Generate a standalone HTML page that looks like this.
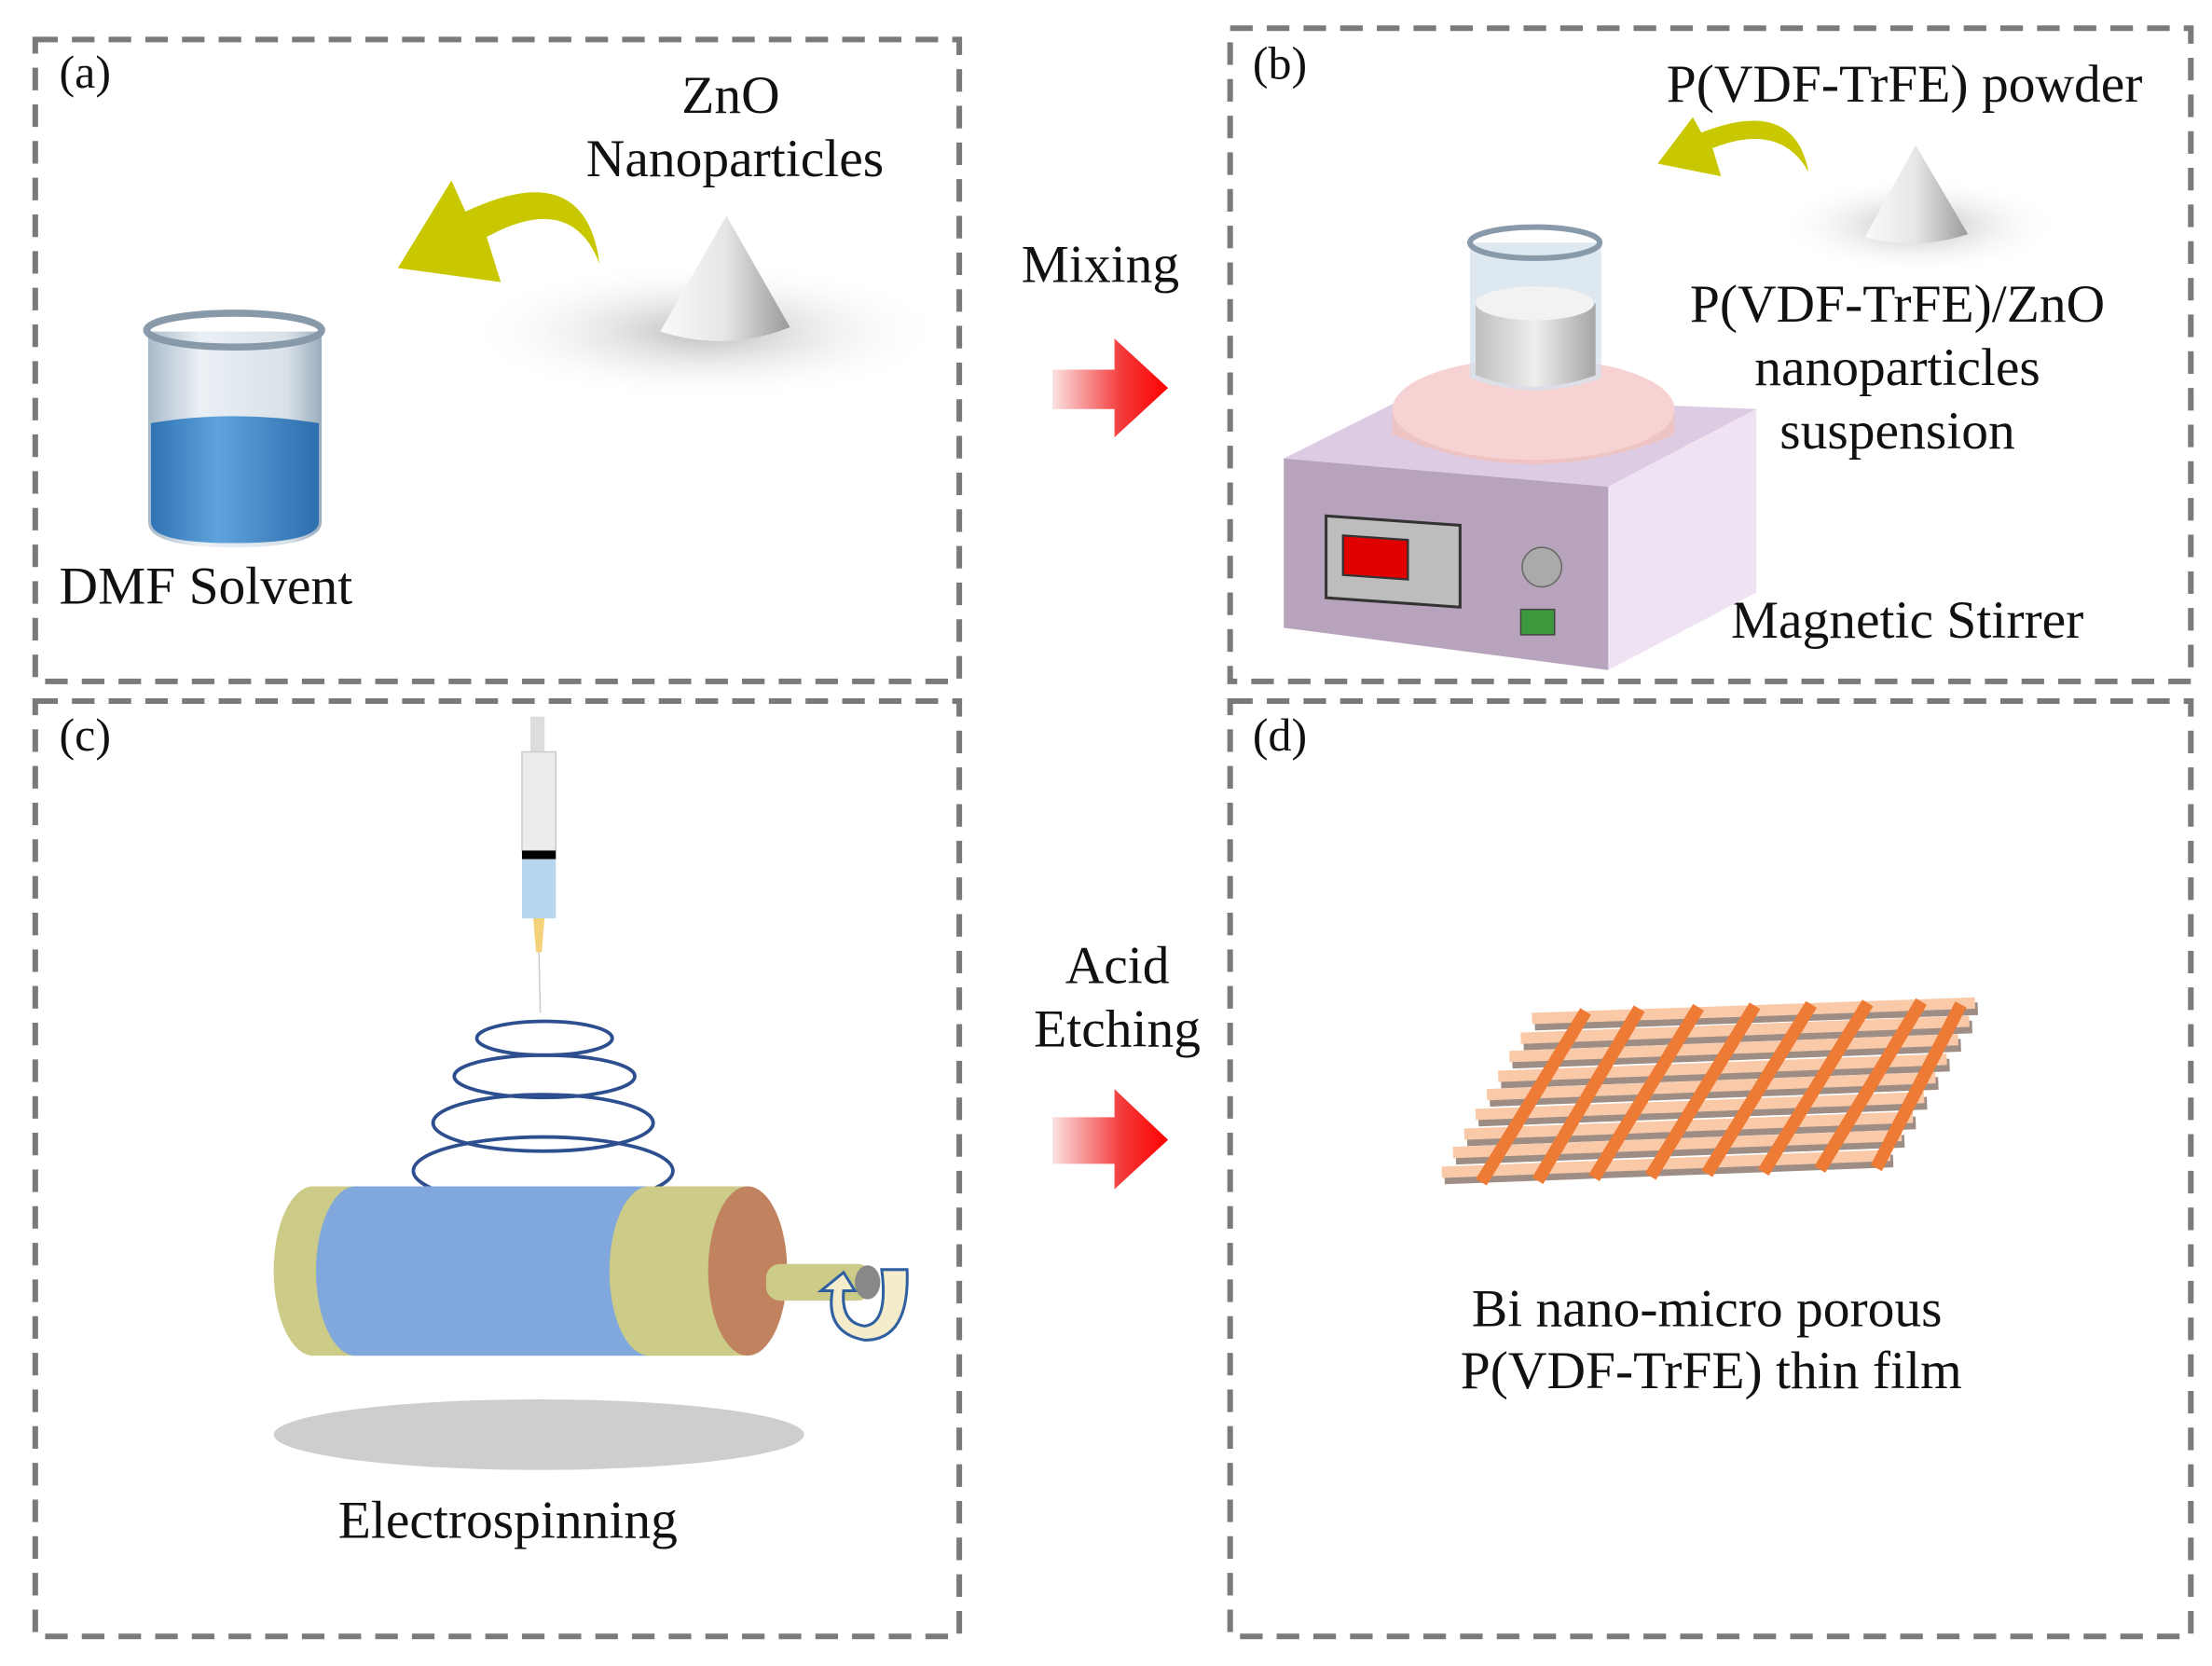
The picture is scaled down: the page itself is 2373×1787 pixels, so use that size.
<!DOCTYPE html>
<html><head><meta charset="utf-8"><style>html,body{margin:0;padding:0;background:#fff}svg{display:block}</style></head>
<body>
<svg width="2373" height="1787" viewBox="0 0 1568 1181" preserveAspectRatio="none" xmlns="http://www.w3.org/2000/svg" font-family="'Liberation Serif', serif" fill="#111">
<defs>
<linearGradient id="red" x1="0" x2="1" y1="0" y2="0"><stop offset="0" stop-color="#fbe2e2"/><stop offset="0.6" stop-color="#f43a3a"/><stop offset="1" stop-color="#ff0000"/></linearGradient>
<radialGradient id="shad" cx="0.5" cy="0.5" r="0.5"><stop offset="0" stop-color="#bbb"/><stop offset="1" stop-color="#fff" stop-opacity="0"/></radialGradient>
<linearGradient id="cone" x1="0" x2="1"><stop offset="0" stop-color="#fafafa"/><stop offset="0.5" stop-color="#e6e6e6"/><stop offset="1" stop-color="#9a9a9a"/></linearGradient>
<linearGradient id="glass" x1="0" x2="1"><stop offset="0" stop-color="#9fb3c4"/><stop offset="0.3" stop-color="#e8eef3"/><stop offset="0.8" stop-color="#d5dee6"/><stop offset="1" stop-color="#8ea3b5"/></linearGradient>
<linearGradient id="liq" x1="0" x2="1"><stop offset="0" stop-color="#2f73b4"/><stop offset="0.4" stop-color="#5fa3dc"/><stop offset="1" stop-color="#2d6eae"/></linearGradient>
<linearGradient id="white" x1="0" x2="1"><stop offset="0" stop-color="#bfbfbf"/><stop offset="0.5" stop-color="#eee"/><stop offset="1" stop-color="#a5a5a5"/></linearGradient>
</defs>
<g fill="none" stroke="#7a7a7a" stroke-width="4" stroke-dasharray="16 10">
<rect x="25" y="28" width="655" height="455"/>
<rect x="872" y="20" width="681" height="463"/>
<rect x="25" y="497" width="655" height="663"/>
<rect x="872" y="497" width="681" height="663"/>
</g>
<g font-size="33"><text x="42" y="62">(a)</text><text x="888" y="56">(b)</text><text x="42" y="532">(c)</text><text x="888" y="532">(d)</text></g>
<g font-size="38" text-anchor="middle">
<text x="518" y="80">ZnO</text><text x="521" y="125">Nanoparticles</text>
<text x="780" y="200">Mixing</text>
<text x="1350" y="72">P(VDF-TrFE) powder</text>
<text x="1345" y="228">P(VDF-TrFE)/ZnO</text><text x="1345" y="273">nanoparticles</text><text x="1345" y="318">suspension</text>
<text x="1352" y="452">Magnetic Stirrer</text>
<text x="792" y="697">Acid</text><text x="792" y="742">Etching</text>
<text x="360" y="1090">Electrospinning</text>
<text x="1210" y="940">Bi nano-micro porous</text><text x="1213" y="984">P(VDF-TrFE) thin film</text>
</g>
<text x="42" y="428" font-size="38">DMF Solvent</text>
<!-- (a) -->
<ellipse cx="500" cy="235" rx="170" ry="50" fill="url(#shad)"/>
<path d="M515,153 L468,235 Q515,250 560,232 Z" fill="url(#cone)"/>
<path d="M425,187 Q405,135 345,168 L355,200 L282,190 L320,128 L330,150 Q415,110 425,187Z" fill="#c9c800"/>
<path d="M105,235 L105,370 Q105,388 165,388 Q228,388 228,370 L228,235 Z" fill="url(#glass)" opacity="0.9"/>
<path d="M107,300 Q165,290 226,300 L226,370 Q226,385 165,385 Q107,385 107,370 Z" fill="url(#liq)"/>
<ellipse cx="166" cy="234" rx="62" ry="12" fill="none" stroke="#8899aa" stroke-width="5"/>
<!-- red arrows -->
<path d="M746,262 L790,262 L790,240 L828,275 L790,310 L790,290 L746,290 Z" fill="url(#red)"/>
<path d="M746,792 L790,792 L790,772 L828,808 L790,843 L790,825 L746,825 Z" fill="url(#red)"/>
<!-- (b) -->
<ellipse cx="1360" cy="160" rx="100" ry="35" fill="url(#shad)"/>
<path d="M1358,103 L1322,168 Q1358,178 1395,166 Z" fill="url(#cone)"/>
<path d="M1282,122 Q1262,86 1214,105 L1220,125 L1175,116 L1200,83 L1206,94 Q1272,68 1282,122Z" fill="#c9c800"/>
<path d="M910,325 L1000,280 L1245,290 L1140,345 Z" fill="#dccbe2"/>
<path d="M1140,345 L1245,290 L1245,420 L1140,475 Z" fill="#efe3f3"/>
<path d="M910,325 L1140,345 L1140,475 L910,445 Z" fill="#b8a3bd"/>
<rect x="940" y="367" width="95" height="58" fill="#bdbdbd" stroke="#333" stroke-width="2" transform="skewY(4) translate(0,-67)"/>
<rect x="952" y="380" width="46" height="28" fill="#e00000" stroke="#333" stroke-width="1.5" transform="skewY(4) translate(0,-67)"/>
<circle cx="1093" cy="402" r="14" fill="#aaa" stroke="#666"/>
<rect x="1078" y="432" width="24" height="18" fill="#3c9a3c" stroke="#444"/>
<path d="M987,290 L987,308 Q1087,350 1187,308 L1187,290 Z" fill="#eec3c3"/>
<ellipse cx="1087" cy="290" rx="100" ry="36" fill="#f6d2d2"/>
<path d="M1042,172 L1042,268 Q1088,285 1135,268 L1135,172 Z" fill="#d6e2ec" opacity="0.8"/>
<path d="M1046,215 L1046,266 Q1088,282 1131,266 L1131,215 Z" fill="url(#white)"/>
<ellipse cx="1088" cy="215" rx="42" ry="12" fill="#f2f2f2"/>
<ellipse cx="1088" cy="172" rx="46" ry="11" fill="none" stroke="#8899aa" stroke-width="4"/>
<!-- (c) -->
<rect x="376" y="508" width="10" height="25" fill="#ddd"/>
<rect x="370" y="533" width="24" height="70" fill="#ececec" stroke="#ccc"/>
<rect x="370" y="603" width="24" height="6" fill="#000"/>
<rect x="370" y="609" width="24" height="42" fill="#b7d6ee"/>
<path d="M378,651 L386,651 L384,675 L380,675Z" fill="#f3d27a"/>
<line x1="382" y1="675" x2="383" y2="718" stroke="#ccc" stroke-width="1"/>
<g fill="none" stroke="#2e4f8f" stroke-width="2.5">
<ellipse cx="386" cy="736" rx="48" ry="12"/>
<ellipse cx="386" cy="763" rx="64" ry="15"/>
<ellipse cx="385" cy="796" rx="78" ry="20"/>
<ellipse cx="385" cy="830" rx="92" ry="24"/>
</g>
<rect x="220" y="841" width="300" height="120" fill="#cccb88"/>
<ellipse cx="222" cy="901" rx="28" ry="60" fill="#cccb88"/>
<rect x="250" y="841" width="210" height="120" fill="#80a8dc"/>
<ellipse cx="252" cy="901" rx="28" ry="60" fill="#80a8dc"/>
<ellipse cx="460" cy="901" rx="28" ry="60" fill="#cccb88"/>
<rect x="460" y="841" width="70" height="120" fill="#cccb88"/>
<ellipse cx="530" cy="901" rx="28" ry="60" fill="#c0825f"/>
<rect x="543" y="896" width="75" height="26" rx="10" fill="#cccb88"/>
<ellipse cx="615" cy="909" rx="9" ry="12" fill="#888"/>
<path d="M625,900 L643,900 Q645,950 613,950 Q585,945 590,915 L582,915 L598,902 L606,915 L598,915 Q596,938 613,940 Q630,938 625,900Z" fill="#f4eccb" stroke="#2e5fa0" stroke-width="2"/>
<ellipse cx="382" cy="1017" rx="188" ry="25" fill="#cfcdcd"/>
<!-- (d) mesh -->
<g stroke-linecap="butt">
<g stroke="#9e8d84" stroke-width="9">
<line x1="1024" y1="835" x2="1342" y2="823"/><line x1="1032" y1="821" x2="1350" y2="809"/><line x1="1040" y1="808" x2="1358" y2="796"/><line x1="1048" y1="794" x2="1366" y2="782"/><line x1="1056" y1="780" x2="1374" y2="768"/><line x1="1064" y1="767" x2="1382" y2="755"/><line x1="1072" y1="753" x2="1390" y2="741"/><line x1="1080" y1="740" x2="1398" y2="728"/><line x1="1088" y1="726" x2="1402" y2="715"/>
</g>
<g stroke="#f9c9a8" stroke-width="8">
<line x1="1022" y1="831" x2="1340" y2="819"/><line x1="1030" y1="817" x2="1348" y2="805"/><line x1="1038" y1="804" x2="1356" y2="792"/><line x1="1046" y1="790" x2="1364" y2="778"/><line x1="1054" y1="776" x2="1372" y2="764"/><line x1="1062" y1="763" x2="1380" y2="751"/><line x1="1070" y1="749" x2="1388" y2="737"/><line x1="1078" y1="736" x2="1396" y2="724"/><line x1="1086" y1="722" x2="1400" y2="711"/>
</g>
<g stroke="#ee7b35" stroke-width="9">
<line x1="1050" y1="838" x2="1124" y2="717"/><line x1="1090" y1="837" x2="1162" y2="715"/><line x1="1130" y1="835" x2="1204" y2="714"/><line x1="1170" y1="834" x2="1244" y2="713"/><line x1="1210" y1="832" x2="1284" y2="712"/><line x1="1250" y1="831" x2="1324" y2="711"/><line x1="1290" y1="829" x2="1362" y2="710"/><line x1="1330" y1="828" x2="1390" y2="712"/>
</g>
</g>
</svg>
</body></html>
